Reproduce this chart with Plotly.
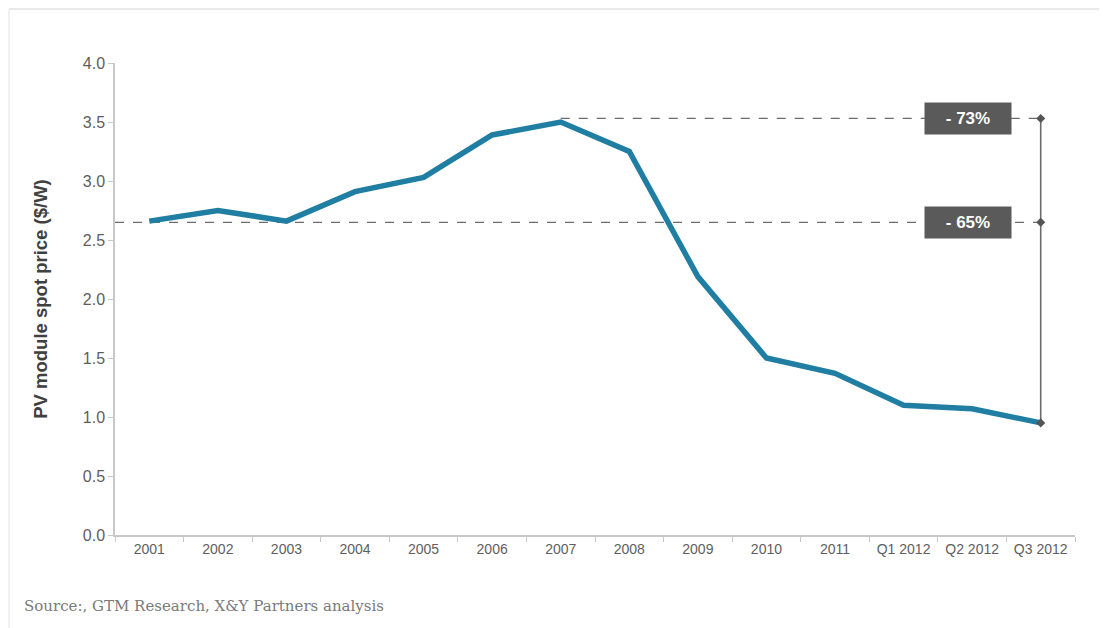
import plotly.graph_objects as go

categories = ["2001", "2002", "2003", "2004", "2005", "2006", "2007", "2008",
              "2009", "2010", "2011", "Q1 2012", "Q2 2012", "Q3 2012"]
prices = [2.66, 2.75, 2.66, 2.91, 3.03, 3.39, 3.50, 3.25, 2.19, 1.50, 1.37, 1.10, 1.07, 0.95]

ref_levels = [3.53, 2.65]
ref_starts = ["2007", None]
ref_labels = ["- 73%", "- 65%"]
y_ticks = [0.0, 0.5, 1.0, 1.5, 2.0, 2.5, 3.0, 3.5, 4.0]

LINE = "#1f7ea1"
GREY = "#6b6b6b"
FONT = "Liberation Sans, Arial, sans-serif"

# page has an 8px body margin; figure placed at (8, 8)
OFF = 8
W, H = 1107 - OFF, 628 - OFF
L, R, T, B = 115 - OFF, 32, 63 - OFF, 93
PW, PH = W - L - R, H - T - B


def px(xs):
    return (xs - OFF - L) / PW


def py(ys):
    return (H - B - (ys - OFF)) / PH


fig = go.Figure()

# reference dashed lines
for lvl, start in zip(ref_levels, ref_starts):
    if start is None:
        fig.add_shape(type="line", xref="paper", yref="y", x0=0, x1=(13 + 0.5) / 14,
                      y0=lvl, y1=lvl, line=dict(color=GREY, width=1.3, dash="dash"), layer="below")
    else:
        fig.add_trace(go.Scatter(x=[start, categories[-1]], y=[lvl, lvl], mode="lines",
                                 line=dict(color=GREY, width=1.3, dash="dash"),
                                 hoverinfo="skip", showlegend=False))

# main line
fig.add_trace(go.Scatter(x=categories, y=prices, mode="lines",
                         line=dict(color=LINE, width=5.5), showlegend=False))

# vertical bracket
fig.add_trace(go.Scatter(x=[categories[-1]] * 3, y=[ref_levels[0], ref_levels[1], prices[-1]],
                         mode="lines+markers",
                         line=dict(color=GREY, width=1.6),
                         marker=dict(symbol="diamond", size=7, color="#555555"),
                         hoverinfo="skip", showlegend=False))

for lvl, lab in zip(ref_levels, ref_labels):
    fig.add_annotation(xref="paper", yref="y", x=px(968), y=lvl,
                       text="<b>" + lab + "</b>", showarrow=False,
                       font=dict(family=FONT, size=17, color="white"),
                       bgcolor="#5a5a5a", width=80, height=25, borderpad=3,
                       xanchor="center", yanchor="middle")

# source note
fig.add_annotation(xref="paper", yref="paper", x=px(22), y=py(606),
                   text="Source:, GTM Research, X&Y Partners analysis", showarrow=False,
                   xanchor="left", yanchor="middle",
                   font=dict(family="DejaVu Serif, serif", size=15, color="#7a7a7a"))

# frame lines (top and left)
fig.add_shape(type="line", xref="paper", yref="paper", x0=px(9), x1=px(1107),
              y0=py(9), y1=py(9), line=dict(color="#e2e2e2", width=1.5))
fig.add_shape(type="line", xref="paper", yref="paper", x0=px(9), x1=px(9),
              y0=py(9), y1=py(628), line=dict(color="#ececec", width=1.5))

fig.update_layout(
    width=W, height=H,
    margin=dict(l=L, r=R, t=T, b=B),
    paper_bgcolor="white", plot_bgcolor="white",
    font=dict(family=FONT),
    xaxis=dict(type="category", categoryorder="array", categoryarray=categories,
               range=[-0.5, 13.5], showgrid=False, zeroline=False,
               showline=True, linecolor="#c8c8c8", linewidth=1.5,
               ticks="outside", tickson="boundaries", ticklen=5, tickcolor="#c8c8c8",
               tickfont=dict(size=14, color="#5e5e5e")),
    yaxis=dict(range=[0, 4], tickvals=y_ticks, ticktext=[f"{v:.1f}" for v in y_ticks],
               showgrid=False, zeroline=False,
               showline=True, linecolor="#c8c8c8", linewidth=1.5,
               ticks="outside", ticklen=5, tickcolor="#c8c8c8",
               tickfont=dict(size=16, color="#5e5e5e"),
               title=dict(text="<b>PV module spot price ($/W)</b>", standoff=30,
                          font=dict(size=18.5, color="#404040"))),
)

fig.write_html("out.html")
